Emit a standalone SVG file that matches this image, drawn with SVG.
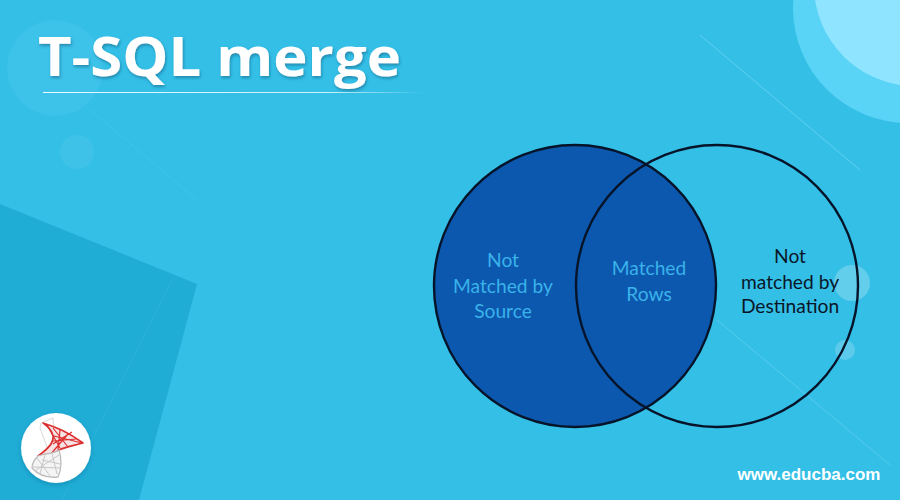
<svg xmlns="http://www.w3.org/2000/svg" width="900" height="500" viewBox="0 0 900 500">
<defs>
<linearGradient id="rule" x1="0" x2="1" y1="0" y2="0"><stop offset="0" stop-color="#fff" stop-opacity="0.9"/><stop offset="0.75" stop-color="#fff" stop-opacity="0.75"/><stop offset="1" stop-color="#fff" stop-opacity="0"/></linearGradient>
<filter id="sh" x="-10%" y="-20%" width="120%" height="150%"><feDropShadow dx="1" dy="2" stdDeviation="1.5" flood-color="#0b5f80" flood-opacity="0.55"/></filter>
<filter id="soft" x="-20%" y="-20%" width="140%" height="140%"><feDropShadow dx="0" dy="2" stdDeviation="2.5" flood-color="#0a5f80" flood-opacity="0.35"/></filter>
</defs>
<style>
.lbl{font-family:"Lato","Open Sans",sans-serif;font-size:19.2px;text-anchor:middle}
.in{fill:#3ab2ea}.out{fill:#0a1628}
.streak{stroke:#7fdcf5;stroke-width:1;fill:none}
</style>
<rect width="900" height="500" fill="#34bfe7"/>
<circle cx="908" cy="8" r="115" fill="#59d3f6"/>
<circle cx="915" cy="-15" r="101" fill="#8fe5ff"/>
<circle cx="55" cy="68" r="48" fill="#4ac5ea" opacity="0.45"/>
<circle cx="77" cy="152" r="17" fill="#4ac5ea" opacity="0.5"/>
<line class="streak" x1="700" y1="35" x2="860" y2="170" opacity="0.6"/>
<line class="streak" x1="87" y1="107" x2="197" y2="200" opacity="0.15"/>
<line class="streak" x1="717" y1="320" x2="890" y2="465" opacity="0.45"/>
<path d="M0 204L197 284L139 500H0Z" fill="#1fadd6"/>
<path d="M173 278L62 500" class="streak" opacity="0.12"/>
<circle cx="852" cy="283" r="18" fill="#63cdec"/>
<circle cx="845" cy="350" r="10" fill="#5ccbeb"/>
<g id="title">
<text x="38" y="76" font-family="'Open Sans','DejaVu Sans',sans-serif" font-weight="700" font-size="53" fill="#fff" filter="url(#sh)" textLength="363" lengthAdjust="spacingAndGlyphs">T-SQL merge</text>
<rect x="43" y="92" width="382" height="1" fill="url(#rule)"/>
</g>
<g id="logo">
<circle cx="56" cy="448" r="35" fill="#fff" filter="url(#soft)"/>
<g fill="none" stroke-linejoin="round">
<path d="M41 423L53 418L54 438L60 450L50 455L40 428Z" stroke="#d8d8d8" stroke-width="1"/>
<path d="M43 423C58 428 68 432 83 443C72 446 65 447 59 450C52 456 46 453 38 456C48 449 54 443 53 436C52 430 48 427 43 423Z" fill="#f7e3e3" stroke="#dc2f2f" stroke-width="1.6"/>
<path d="M47 425L60 448M53 428L68 447M60 430L58 450M68 434L50 455M76 439L53 441M54 436L82 443M53 444L72 432" stroke="#dc2f2f" stroke-width="1.2"/>
<path d="M38 456C46 453 54 454 59 450C62 460 62 468 58 477C48 478 39 476 32 468C32 463 35 459 38 456Z" fill="#f4f4f4" stroke="#bdbdbd" stroke-width="1.3"/>
<path d="M37 458L50 476M45 455L40 474M52 453L57 474M59 455L36 470M60 464L42 460M33 467L60 468" stroke="#c8c8c8" stroke-width="1"/>
</g>
</g>
<g id="source-circle">
<circle cx="575" cy="286" r="141" fill="#0c58ae" stroke="#06142a" stroke-width="2.4"/>
<text class="lbl in" x="503" y="267">Not</text>
<text class="lbl in" x="503" y="293">Matched by</text>
<text class="lbl in" x="503" y="318">Source</text>
</g>
<g id="destination-circle">
<circle cx="717" cy="286" r="141" fill="none" stroke="#06142a" stroke-width="2.4"/>
<text class="lbl out" x="790" y="263">Not</text>
<text class="lbl out" x="790" y="289">matched by</text>
<text class="lbl out" x="790" y="313">Destination</text>
</g>
<g id="matched-rows">
<text class="lbl in" x="649" y="275">Matched</text>
<text class="lbl in" x="649" y="301">Rows</text>
</g>
<text x="809" y="480" font-family="'Liberation Sans',Arial,sans-serif" font-weight="700" font-size="17" fill="#fff" text-anchor="middle">www.educba.com</text>
<g id="connectors"/>
</svg>
